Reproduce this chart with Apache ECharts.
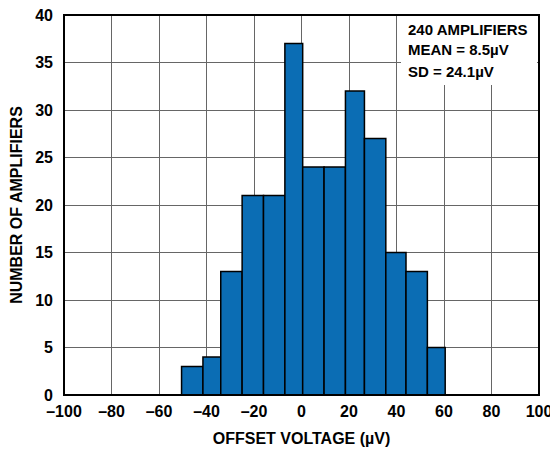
<!DOCTYPE html>
<html>
<head>
<meta charset="utf-8">
<script src="https://cdn.jsdelivr.net/npm/echarts@6/dist/echarts.min.js"></script>
<style>html,body{margin:0;padding:0;background:#fff}#c{width:550px;height:451px}</style>
</head>
<body>
<div id="c"></div>
<script>
// Histogram bins (µV) and counts
var binStart = [-50.5, -41.5, -34, -25, -16, -7, 0.5, 9.5, 18.5, 26.5, 35.5, 44, 53];
var binEnd   = [-41.5, -34, -25, -16, -7, 0.5, 9.5, 18.5, 26.5, 35.5, 44, 53, 60.5];
var counts   = [3, 4, 13, 21, 21, 37, 24, 24, 32, 27, 15, 13, 5];
var xTicks = [-100, -80, -60, -40, -20, 0, 20, 40, 60, 80, 100];
var yTicks = [0, 5, 10, 15, 20, 25, 30, 35, 40];
var noteLines = ['240 AMPLIFIERS', 'MEAN = 8.5\u00B5V', 'SD = 24.1\u00B5V'];
var xTitle = 'OFFSET VOLTAGE (\u00B5V)';
var yTitle = 'NUMBER OF AMPLIFIERS';

var FONT = 'Liberation Sans, Arial, sans-serif';
var chart = echarts.init(document.getElementById('c'), null, {renderer: 'svg'});
var data = binStart.map(function (s, i) { return [s, binEnd[i], counts[i]]; });

chart.setOption({
  animation: false,
  grid: {left: 64, right: 11, top: 15, bottom: 56, containLabel: false, outerBoundsMode: 'none',
    show: true, borderColor: '#000', borderWidth: 2, backgroundColor: 'transparent', z: 10},
  xAxis: {
    type: 'value', min: xTicks[0], max: xTicks[xTicks.length - 1], interval: 20,
    axisLine: {show: false}, axisTick: {show: false},
    splitLine: {show: true, lineStyle: {color: '#666', width: 1}},
    axisLabel: {color: '#000', fontFamily: FONT, fontWeight: 'bold', fontSize: 16, margin: 8,
      formatter: function (v) { return v < 0 ? '\u2013' + Math.abs(v) : String(v); }},
    name: xTitle, nameLocation: 'middle', nameGap: 35,
    nameTextStyle: {color: '#000', fontFamily: FONT, fontWeight: 'bold', fontSize: 16}
  },
  yAxis: {
    type: 'value', min: yTicks[0], max: yTicks[yTicks.length - 1], interval: 5,
    axisLine: {show: false}, axisTick: {show: false},
    splitLine: {show: true, lineStyle: {color: '#666', width: 1}},
    axisLabel: {color: '#000', fontFamily: FONT, fontWeight: 'bold', fontSize: 16, margin: 11},
    name: yTitle, nameLocation: 'middle', nameGap: 38,
    nameTextStyle: {color: '#000', fontFamily: FONT, fontWeight: 'bold', fontSize: 16}
  },
  series: [{
    type: 'custom',
    data: data,
    encode: {x: [0, 1], y: 2},
    renderItem: function (params, api) {
      var p0 = api.coord([api.value(0), api.value(2)]);
      var p1 = api.coord([api.value(1), 0]);
      return {
        type: 'rect',
        shape: {x: p0[0], y: p0[1], width: p1[0] - p0[0], height: p1[1] - p0[1]},
        style: {fill: '#0b6db4', stroke: '#000', lineWidth: 1.5}
      };
    }
  }],
  graphic: [
    {type: 'rect', left: 401, top: 16, shape: {width: 136, height: 69}, style: {fill: '#fff'}, z: 5},
    {type: 'text', left: 408, top: 22, z: 6, style: {text: noteLines[0], fill: '#000', font: 'bold 15px ' + FONT}},
    {type: 'text', left: 408, top: 42, z: 6, style: {text: noteLines[1], fill: '#000', font: 'bold 15px ' + FONT}},
    {type: 'text', left: 408, top: 63.5, z: 6, style: {text: noteLines[2], fill: '#000', font: 'bold 15px ' + FONT}}
  ]
});
</script>
</body>
</html>
